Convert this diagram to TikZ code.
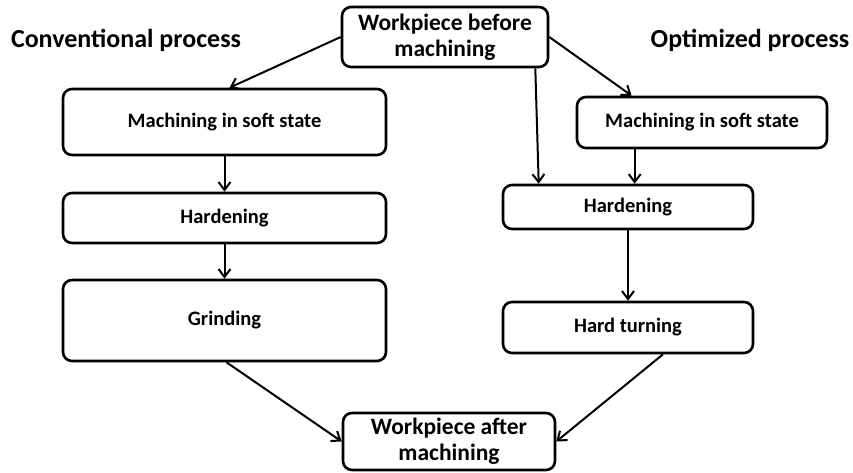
\documentclass[tikz,border=0pt]{standalone}
\usepackage{fontspec}
\setmainfont{Carlito}
\usetikzlibrary{arrows.meta,calc}
\begin{document}
\begin{tikzpicture}[x=1pt,y=-1pt,
  box/.style={draw,line width=2.6pt,rounded corners=9pt,align=center,font=\bfseries\fontsize{20.5}{24}\selectfont,inner sep=0pt},
  bigbox/.style={box,font=\bfseries\fontsize{23.5}{26}\selectfont},
  arr/.style={line width=2pt,-{Straight Barb[length=8pt,width=12pt,line width=2pt]}},
  ttl/.style={font=\bfseries\fontsize{26}{30}\selectfont}]
\useasboundingbox (0,0) rectangle (853,472);
\node[bigbox,minimum width=206pt,minimum height=60pt] (top) at (445,37) {Workpiece before\\machining};
\node[box,minimum width=323pt,minimum height=66pt] (lms) at (224.5,122) {Machining in soft state};
\node[box,minimum width=323pt,minimum height=50pt] (lh) at (224.5,218) {Hardening};
\node[box,minimum width=323pt,minimum height=81pt] (lg) at (224.5,320.5) {Grinding};
\node[box,minimum width=250pt,minimum height=51pt] (rms) at (702,122.5) {Machining in soft state};
\node[box,minimum width=250pt,minimum height=44pt] (rh) at (628,207) {Hardening};
\node[box,minimum width=250pt,minimum height=51pt] (rht) at (628,327.5) {Hard turning};
\node[bigbox,minimum width=212pt,minimum height=57pt] (bot) at (449,441.5) {Workpiece after\\machining};
\node[ttl] (tl) at (126,40) {Conventional process};
\node[ttl] (tr) at (750,40) {Optimized process};
\draw[arr] (top.west) -- ($(lms.north)+(5,0)$);
\draw[arr] (top.east) -- ($(rms.north west)+(56,0)$);
\draw[arr] ($(top.south east)+(-14,0)$) -- ($(rh.north west)+(37,0)$);
\draw[arr] ($(rms.south west)+(59,0)$) coordinate (a) -- (a |- rh.north);
\draw[arr] (rh.south) -- (rht.north);
\draw[arr] (lms.south) -- (lh.north);
\draw[arr] (lh.south) -- (lg.north);
\draw[arr] ($(lg.south)+(2,0)$) -- (bot.west);
\draw[arr] ($(rht.south)+(35,0)$) -- (bot.east);
\end{tikzpicture}
\end{document}
